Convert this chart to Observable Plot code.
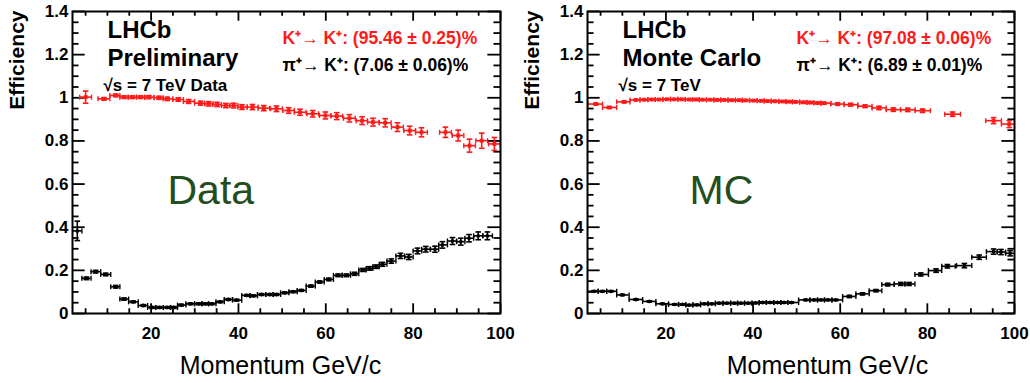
<!DOCTYPE html>
<html><head><meta charset="utf-8">
<script src="https://cdn.jsdelivr.net/npm/d3@7"></script>
<script src="https://cdn.jsdelivr.net/npm/@observablehq/plot@0.6"></script>
<style>
body{margin:0;background:#fff}
#wrap{display:flex;width:1030px;height:383px;overflow:hidden;background:#fff}
#wrap svg{overflow:hidden;flex:none;background:#fff}
</style></head><body><div id="wrap"></div>
<script>
// ---------- tick labels ----------
const xTickMajor = [20, 40, 60, 80, 100];
const xTickMinor = [5, 10, 15, 25, 30, 35, 45, 50, 55, 65, 70, 75, 85, 90, 95];
const yTickMajor = [0, 0.2, 0.4, 0.6, 0.8, 1, 1.2, 1.4];
const yTickMinor = [0.05, 0.1, 0.15, 0.25, 0.3, 0.35, 0.45, 0.5, 0.55, 0.65, 0.7, 0.75, 0.85, 0.9, 0.95, 1.05, 1.1, 1.15, 1.25, 1.3, 1.35];

// ---------- Data panel: K -> K (red) ----------
const dataKX = [5.0, 9.2, 11.9, 13.8, 15.7, 17.6, 19.5, 21.8, 23.7, 26.2, 28.6, 31.3, 33.2, 35.1, 37.1, 38.9, 40.8, 43.2, 45.8, 48.7, 51.5, 54.1, 57.0, 59.9, 62.5, 65.4, 68.3, 70.8, 73.6, 76.4, 79.2, 81.9, 87.4, 90.3, 92.9, 95.7, 98.6];
const dataKY = [1.003, 0.995, 1.011, 1.003, 1.003, 1.003, 1.003, 1.0, 0.995, 0.992, 0.983, 0.975, 0.972, 0.969, 0.964, 0.964, 0.957, 0.957, 0.952, 0.949, 0.941, 0.933, 0.926, 0.918, 0.915, 0.905, 0.894, 0.887, 0.884, 0.864, 0.848, 0.840, 0.840, 0.825, 0.778, 0.801, 0.786];
const dataKErr = [0.028, 0.006, 0.006, 0.006, 0.006, 0.006, 0.007, 0.007, 0.008, 0.008, 0.009, 0.009, 0.010, 0.010, 0.010, 0.011, 0.011, 0.012, 0.012, 0.013, 0.013, 0.014, 0.015, 0.016, 0.016, 0.017, 0.018, 0.018, 0.019, 0.020, 0.020, 0.021, 0.024, 0.025, 0.030, 0.035, 0.030];

// ---------- Data panel: pi -> K (black) ----------
const dataPiX = [3.1, 5.2, 7.3, 9.6, 11.9, 13.8, 15.9, 18.2, 20.2, 21.9, 23.7, 25.2, 26.9, 29.0, 30.9, 32.4, 33.9, 35.8, 37.7, 39.6, 41.9, 43.4, 45.3, 47.2, 48.7, 50.6, 52.5, 54.4, 56.6, 58.6, 60.7, 62.8, 64.7, 66.6, 68.5, 70.0, 71.5, 73.0, 75.0, 77.1, 79.0, 81.0, 82.9, 85.0, 86.7, 89.0, 90.9, 92.8, 94.9, 97.0];
const dataPiY = [0.383, 0.163, 0.194, 0.181, 0.124, 0.067, 0.054, 0.037, 0.028, 0.028, 0.028, 0.028, 0.039, 0.045, 0.045, 0.045, 0.045, 0.054, 0.065, 0.062, 0.084, 0.082, 0.088, 0.088, 0.088, 0.096, 0.101, 0.107, 0.127, 0.146, 0.158, 0.177, 0.177, 0.184, 0.202, 0.209, 0.217, 0.228, 0.243, 0.267, 0.262, 0.290, 0.298, 0.298, 0.318, 0.336, 0.333, 0.349, 0.360, 0.360];
const dataPiErr = [0.045, 0.006, 0.006, 0.006, 0.006, 0.005, 0.004, 0.004, 0.004, 0.004, 0.004, 0.004, 0.004, 0.004, 0.004, 0.004, 0.004, 0.004, 0.004, 0.004, 0.004, 0.004, 0.004, 0.004, 0.004, 0.004, 0.004, 0.004, 0.005, 0.005, 0.006, 0.006, 0.006, 0.007, 0.007, 0.008, 0.008, 0.009, 0.010, 0.012, 0.012, 0.013, 0.013, 0.014, 0.015, 0.016, 0.016, 0.017, 0.018, 0.018];

// ---------- MC panel: K -> K (red) ----------
const mcKX = [3.9, 7.0, 10.4, 13.1, 15.0, 16.7, 18.4, 20.2, 21.9, 23.6, 25.3, 26.9, 28.4, 30.2, 31.8, 33.4, 35.1, 36.8, 38.3, 40.1, 41.8, 43.3, 45.0, 46.8, 48.3, 49.8, 51.6, 53.1, 54.8, 56.3, 59.4, 62.4, 65.7, 68.9, 72.2, 75.5, 78.9, 85.8, 95.2, 98.8];
const mcKY = [0.971, 0.955, 0.981, 0.990, 0.991, 0.992, 0.992, 0.993, 0.993, 0.993, 0.992, 0.992, 0.991, 0.991, 0.990, 0.990, 0.989, 0.989, 0.988, 0.987, 0.986, 0.985, 0.984, 0.983, 0.982, 0.981, 0.979, 0.978, 0.976, 0.975, 0.971, 0.968, 0.961, 0.953, 0.945, 0.944, 0.940, 0.924, 0.894, 0.878];
const mcKErr = [0.004, 0.004, 0.004, 0.002, 0.002, 0.002, 0.002, 0.002, 0.002, 0.002, 0.002, 0.002, 0.002, 0.002, 0.002, 0.002, 0.002, 0.002, 0.002, 0.002, 0.002, 0.002, 0.003, 0.003, 0.003, 0.003, 0.004, 0.004, 0.004, 0.004, 0.006, 0.006, 0.006, 0.008, 0.008, 0.008, 0.008, 0.010, 0.014, 0.016];

// ---------- MC panel: pi -> K (black) ----------
const mcPiX = [3.5, 5.4, 7.4, 10.0, 13.1, 16.2, 19.2, 22.0, 23.8, 25.3, 27.1, 28.8, 30.5, 32.2, 34.0, 35.7, 37.2, 38.9, 40.6, 42.2, 43.9, 45.6, 47.1, 48.8, 52.1, 54.0, 55.6, 57.2, 59.0, 62.1, 65.1, 68.2, 70.9, 73.9, 75.8, 78.5, 82.0, 84.6, 88.5, 91.9, 95.2, 96.9, 99.0];
const mcPiY = [0.103, 0.103, 0.103, 0.086, 0.065, 0.056, 0.045, 0.042, 0.042, 0.039, 0.040, 0.045, 0.045, 0.048, 0.048, 0.048, 0.048, 0.048, 0.049, 0.051, 0.051, 0.051, 0.051, 0.051, 0.063, 0.063, 0.063, 0.063, 0.063, 0.079, 0.091, 0.106, 0.134, 0.137, 0.137, 0.181, 0.199, 0.219, 0.222, 0.261, 0.287, 0.285, 0.279];
const mcPiErr = [0.003, 0.003, 0.003, 0.003, 0.003, 0.003, 0.003, 0.003, 0.003, 0.003, 0.003, 0.003, 0.003, 0.003, 0.003, 0.003, 0.003, 0.003, 0.003, 0.003, 0.003, 0.003, 0.003, 0.003, 0.003, 0.003, 0.003, 0.003, 0.003, 0.005, 0.005, 0.005, 0.006, 0.007, 0.007, 0.007, 0.008, 0.008, 0.010, 0.010, 0.012, 0.012, 0.012];

// ---------- texts ----------
const yTitle = "Efficiency";
const xTitle = "Momentum GeV/c";
const dataLabels = ["LHCb", "Preliminary", "\u221As = 7 TeV Data"];
const mcLabels = ["LHCb", "Monte Carlo", "\u221As = 7 TeV"];
const dataLegend = ["K\u207A\u2192 K\u207A: (95.46 \u00B1 0.25)%", "\u03C0\u207A\u2192 K\u207A: (7.06 \u00B1 0.06)%"];
const mcLegend = ["K\u207A\u2192 K\u207A: (97.08 \u00B1 0.06)%", "\u03C0\u207A\u2192 K\u207A: (6.89 \u00B1 0.01)%"];
const bigLabels = ["Data", "MC"];

const FONT = "'Liberation Sans', Arial, Helvetica, sans-serif";
const RED = "#ff1a1a";

function rows(xs, ys, es, cap) {
  return xs.map((x, i) => {
    const dl = i > 0 ? (x - xs[i - 1]) / 2 : cap;
    const dr = i < xs.length - 1 ? (xs[i + 1] - x) / 2 : cap;
    return {x, y: ys[i], xlo: x - Math.min(dl, cap), xhi: x + Math.min(dr, cap), ylo: ys[i] - es[i], yhi: ys[i] + es[i]};
  });
}

const hCap = {draw(ctx, size) { const r = Math.sqrt(size / Math.PI); ctx.moveTo(-r, 0); ctx.lineTo(r, 0); }};
const vCap = {draw(ctx, size) { const r = Math.sqrt(size / Math.PI); ctx.moveTo(0, -r); ctx.lineTo(0, r); }};

function series(data, color, symbol, r) {
  return [
    Plot.ruleY(data, {y: "y", x1: "xlo", x2: "xhi", stroke: color, strokeWidth: 1.6, clip: true}),
    Plot.ruleX(data, {x: "x", y1: "ylo", y2: "yhi", stroke: color, strokeWidth: 1.6, clip: true}),
    Plot.dot(data, {x: "x", y: "ylo", symbol: hCap, r: 2.8, stroke: color, fill: "none", strokeWidth: 1.6, clip: true}),
    Plot.dot(data, {x: "x", y: "yhi", symbol: hCap, r: 2.8, stroke: color, fill: "none", strokeWidth: 1.6, clip: true}),
    Plot.dot(data, {x: "xlo", y: "y", symbol: vCap, r: 2.5, stroke: color, fill: "none", strokeWidth: 1.4, clip: true}),
    Plot.dot(data, {x: "xhi", y: "y", symbol: vCap, r: 2.5, stroke: color, fill: "none", strokeWidth: 1.4, clip: true}),
    Plot.dot(data, {x: "x", y: "y", symbol, r, fill: color, stroke: "none", clip: true})
  ];
}

function label(str, dx, dy, opts) {
  return Plot.text([str], {frameAnchor: "top-left", dx, dy, text: d => d, lineAnchor: "bottom", textAnchor: "start", fill: "black", ...opts});
}

function panel(o) {
  const kRows = rows(o.kX, o.kY, o.kE, o.kCap);
  const piRows = rows(o.piX, o.piY, o.piE, o.piCap);
  const XMAJ = 0.045, XMIN = 0.022, YMAJ = 2.9, YMIN = 1.5;
  const tk = {stroke: "black", strokeWidth: 1.8};
  return Plot.plot({
    width: 515, height: 383,
    marginLeft: 72, marginRight: o.mr, marginTop: 11, marginBottom: 70,
    style: {fontFamily: FONT, background: "white", overflow: "hidden"},
    x: {domain: [2, 100]},
    y: {domain: [0, 1.4]},
    marks: [
      // inward ticks on all four sides
      Plot.ruleX(xTickMajor, {x: d => d, y1: 0, y2: XMAJ, ...tk}),
      Plot.ruleX(xTickMinor, {x: d => d, y1: 0, y2: XMIN, ...tk}),
      Plot.ruleX(xTickMajor, {x: d => d, y1: 1.4 - XMAJ, y2: 1.4, ...tk}),
      Plot.ruleX(xTickMinor, {x: d => d, y1: 1.4 - XMIN, y2: 1.4, ...tk}),
      Plot.ruleY(yTickMajor, {y: d => d, x1: 2, x2: 2 + YMAJ, ...tk}),
      Plot.ruleY(yTickMinor, {y: d => d, x1: 2, x2: 2 + YMIN, ...tk}),
      Plot.ruleY(yTickMajor, {y: d => d, x1: 100 - YMAJ, x2: 100, ...tk}),
      Plot.ruleY(yTickMinor, {y: d => d, x1: 100 - YMIN, x2: 100, ...tk}),
      Plot.axisX({ticks: xTickMajor, tickSize: 0, tickPadding: 13, label: null, fontSize: 17, fontWeight: "bold", tickFormat: d3.format("~g")}),
      Plot.axisY({ticks: yTickMajor, tickSize: 0, tickPadding: 4, label: null, fontSize: 17, fontWeight: "bold", tickFormat: d3.format("~g")}),
      ...series(piRows, "black", "circle", 1.9),
      ...series(kRows, RED, "square", 2.2),
      // titles
      Plot.text([yTitle], {frameAnchor: "top-left", dx: -55, dy: -1, rotate: -90, text: d => d, textAnchor: "end", lineAnchor: "middle", fontSize: 21, fontWeight: "bold", fill: "black"}),
      Plot.text([xTitle], {frameAnchor: "top-left", dx: o.xtDx, dy: 362, text: d => d, textAnchor: "middle", lineAnchor: "bottom", fontSize: 25, fill: "black"}),
      label(o.labels[0], 35, 26, {fontSize: 24, fontWeight: "bold"}),
      label(o.labels[1], 35, 54, {fontSize: 24, fontWeight: "bold"}),
      label(o.labels[2], 31, 79, {fontSize: 17, fontWeight: "bold"}),
      label(o.legend[0], o.lgDx, 32, {fontSize: 17.5, fontWeight: "bold", fill: RED}),
      label(o.legend[1], o.lgDx, 59, {fontSize: 17.5, fontWeight: "bold", fill: "black"}),
      label(o.big, o.bigDx, 192, {fontSize: 41, fill: "#244d20"}),
      Plot.frame({stroke: "black", strokeWidth: 2})
    ]
  });
}

const wrap = document.getElementById("wrap");
wrap.appendChild(panel({
  kX: dataKX, kY: dataKY, kE: dataKErr, kCap: 1.35,
  piX: dataPiX, piY: dataPiY, piE: dataPiErr, piCap: 1.15,
  labels: dataLabels, legend: dataLegend, big: bigLabels[0],
  mr: 15, xtDx: 208, lgDx: 210, bigDx: 95
}));
wrap.appendChild(panel({
  kX: mcKX, kY: mcKY, kE: mcKErr, kCap: 1.8,
  piX: mcPiX, piY: mcPiY, piE: mcPiErr, piCap: 1.8,
  labels: mcLabels, legend: mcLegend, big: bigLabels[1],
  mr: 16, xtDx: 240, lgDx: 209, bigDx: 102
}));
</script></body></html>
